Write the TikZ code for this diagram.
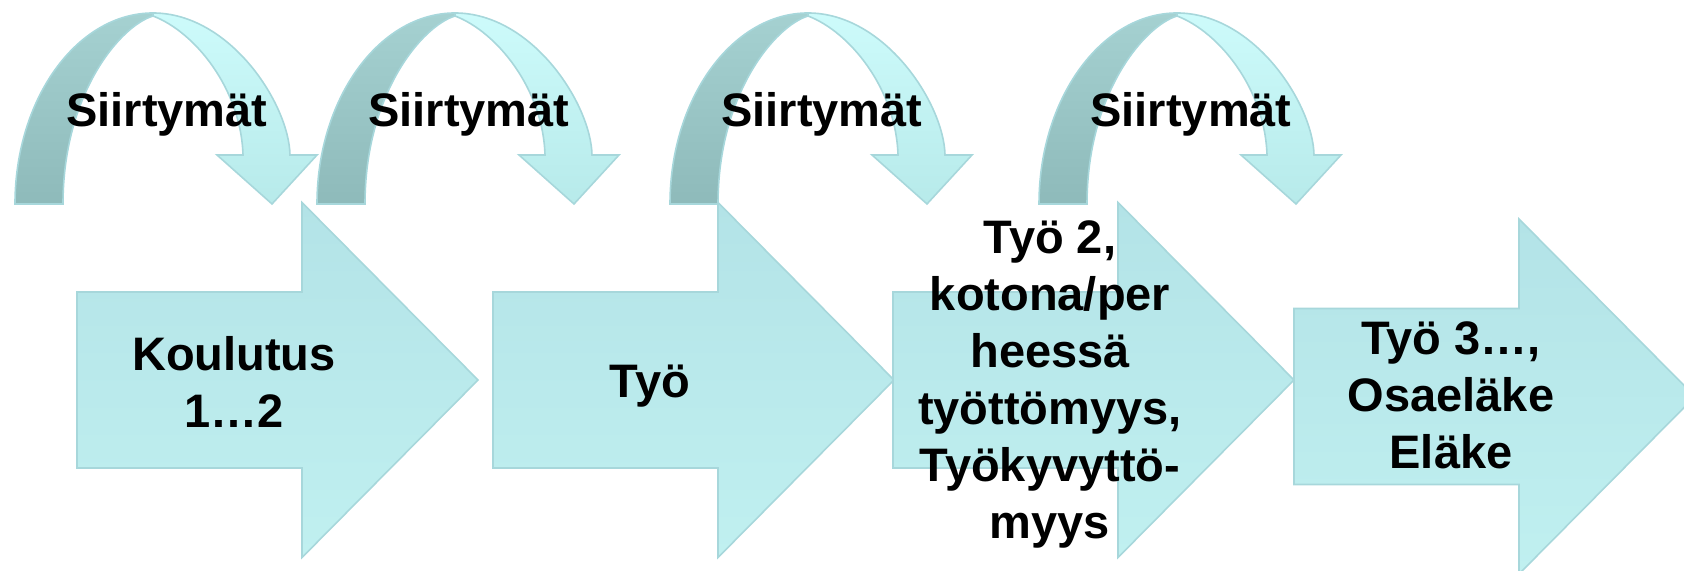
\documentclass[tikz,border=0pt]{standalone}
\usepackage{fontspec}
\setmainfont{Liberation Sans}
\definecolor{arrowtop}{HTML}{B3E3E7}
\definecolor{arrowbottom}{HTML}{C0F0F0}
\definecolor{arrowline}{HTML}{A7D7DB}
\definecolor{backtop}{HTML}{A5D1D1}
\definecolor{backbottom}{HTML}{8EBABA}
\definecolor{fronttop}{HTML}{CDFBFB}
\definecolor{frontbottom}{HTML}{B7EAEA}
\tikzset{
  stagearrow/.style={draw=arrowline, line width=0.8pt, top color=arrowtop, bottom color=arrowbottom},
  turnback/.style={draw=arrowline, line width=0.8pt, top color=backtop, bottom color=backbottom},
  turnfront/.style={draw=arrowline, line width=0.8pt, top color=fronttop, bottom color=frontbottom},
  stagetext/.style={font=\bfseries\fontsize{23.5}{28.5}\selectfont, align=center, inner sep=0pt}
}
\begin{document}
\begin{tikzpicture}[x=0.5pt, y=0.5pt]
  \useasboundingbox (0,0) rectangle (1684,571);
  \foreach \n/\l/\c in {1/77/191, 2/493/191, 3/893/191, 4/1294/174.5} { \draw[stagearrow, shift={(\l,\c)}] (0,88) -- (225,88) -- (225,177.5) -- (401,0) -- (225,-177.5) -- (225,-88) -- (0,-88) -- cycle; }
  \foreach \n/\l in {1/15, 2/317, 3/670, 4/1039} {
    \begin{scope}[shift={(\l,367)}]
      \draw[turnback] (0,0) .. controls (0,105) and (62,191) .. (138,191) -- (138,188)
        .. controls (105,178) and (48,110) .. (48,0) -- cycle;
      \draw[turnfront] (138,191) .. controls (215,191) and (274,100) .. (275,49)
        -- (302,49) -- (257,0) -- (202,49) -- (228,49)
        .. controls (226,115) and (180,172) .. (138,188) -- cycle;
      \node[stagetext, anchor=base] (siirto\n) at (152,77) {Siirtymät};
    \end{scope}
  }
  \node[stagetext] (koulutus) at (234,189.5) {Koulutus\\1…2};
  \node[stagetext] (tyo) at (650,185) {Työ};
  \node[stagetext] (tyokaksi) at (1050,186.5) {Työ 2,\\kotona/per\\heessä\\työttömyys,\\Työkyvyttö-\\myys};
  \node[stagetext] (elake) at (1451,176) {Työ 3…,\\Osaeläke\\Eläke};
\end{tikzpicture}
\end{document}
